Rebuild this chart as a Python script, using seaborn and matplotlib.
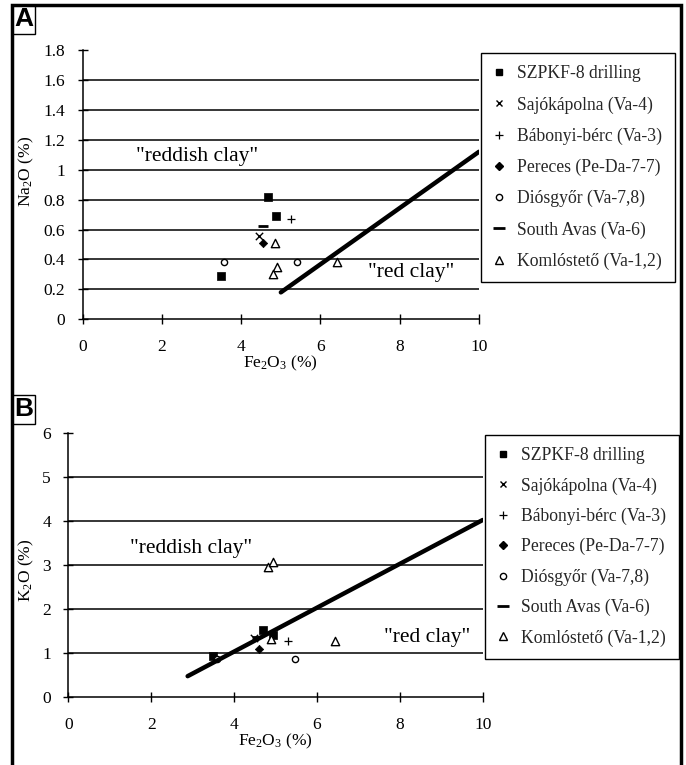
import matplotlib
matplotlib.use('Agg')
import matplotlib.pyplot as plt
import seaborn as sns
import pandas as pd
from matplotlib.patches import Rectangle
from matplotlib.lines import Line2D

# ---------------- data ----------------
series = ["SZPKF-8 drilling", "Sajókápolna (Va-4)", "Bábonyi-bérc (Va-3)",
          "Pereces (Pe-Da-7-7)", "Diósgyőr (Va-7,8)", "South Avas (Va-6)",
          "Komlóstető (Va-1,2)"]

# Panel A: Na2O vs Fe2O3
a_fe = {
    "SZPKF-8 drilling": [3.48, 4.67, 4.89],
    "Sajókápolna (Va-4)": [4.44],
    "Bábonyi-bérc (Va-3)": [5.26],
    "Pereces (Pe-Da-7-7)": [4.55],
    "Diósgyőr (Va-7,8)": [3.57, 5.40],
    "South Avas (Va-6)": [4.55],
    "Komlóstető (Va-1,2)": [4.85, 4.90, 4.80, 6.41],
}
a_na = {
    "SZPKF-8 drilling": [0.29, 0.82, 0.69],
    "Sajókápolna (Va-4)": [0.56],
    "Bábonyi-bérc (Va-3)": [0.67],
    "Pereces (Pe-Da-7-7)": [0.51],
    "Diósgyőr (Va-7,8)": [0.38, 0.38],
    "South Avas (Va-6)": [0.625],
    "Komlóstető (Va-1,2)": [0.51, 0.35, 0.30, 0.385],
}
# Panel B: K2O vs Fe2O3
b_fe = {
    "SZPKF-8 drilling": [3.50, 4.69, 4.93],
    "Sajókápolna (Va-4)": [4.49],
    "Bábonyi-bérc (Va-3)": [5.31],
    "Pereces (Pe-Da-7-7)": [4.60],
    "Diósgyőr (Va-7,8)": [3.60, 5.46],
    "South Avas (Va-6)": [4.55],
    "Komlóstető (Va-1,2)": [4.89, 4.83, 4.93, 6.43],
}
b_k = {
    "SZPKF-8 drilling": [0.93, 1.54, 1.42],
    "Sajókápolna (Va-4)": [1.34],
    "Bábonyi-bérc (Va-3)": [1.29],
    "Pereces (Pe-Da-7-7)": [1.10],
    "Diósgyőr (Va-7,8)": [0.88, 0.87],
    "South Avas (Va-6)": [1.38],
    "Komlóstető (Va-1,2)": [1.32, 2.97, 3.08, 1.29],
}
# boundary lines
a_line_x = [5.0, 10.0]
a_line_y = [0.18, 1.12]
b_line_x = [2.88, 10.0]
b_line_y = [0.48, 4.03]

x_ticks = [0, 2, 4, 6, 8, 10]
a_y_ticks = [0, 0.2, 0.4, 0.6, 0.8, 1, 1.2, 1.4, 1.6, 1.8]
a_y_ticklabels = ["0", "0.2", "0.4", "0.6", "0.8", "1", "1.2", "1.4", "1.6", "1.8"]
b_y_ticks = [0, 1, 2, 3, 4, 5, 6]

# ---------------- style ----------------
sns.set_theme(style='white')
plt.rcParams['font.family'] = ['Liberation Serif', 'DejaVu Serif']
plt.rcParams['mathtext.fontset'] = 'custom'
plt.rcParams['mathtext.rm'] = 'Liberation Serif'
plt.rcParams['mathtext.it'] = 'Liberation Serif:italic'

markers = {
    "SZPKF-8 drilling": dict(marker='s', s=34, facecolor='black', edgecolor='black', linewidth=0.5),
    "Sajókápolna (Va-4)": dict(marker='x', s=28, color='black', linewidth=1.0),
    "Bábonyi-bérc (Va-3)": dict(marker='+', s=40, color='black', linewidth=0.9),
    "Pereces (Pe-Da-7-7)": dict(marker='D', s=18, facecolor='black', edgecolor='black', linewidth=0.5),
    "Diósgyőr (Va-7,8)": dict(marker='o', s=20, facecolor='white', edgecolor='black', linewidth=1.0),
    "South Avas (Va-6)": dict(marker='_', s=60, color='black', linewidth=2.0),
    "Komlóstető (Va-1,2)": dict(marker='^', s=36, facecolor='white', edgecolor='black', linewidth=1.0),
}
legend_markers = {
    "SZPKF-8 drilling": dict(marker='s', markersize=5, mfc='black', mec='black'),
    "Sajókápolna (Va-4)": dict(marker='x', markersize=5, color='black', mew=1.0),
    "Bábonyi-bérc (Va-3)": dict(marker='+', markersize=6, color='black', mew=0.9),
    "Pereces (Pe-Da-7-7)": dict(marker='D', markersize=4, mfc='black', mec='black'),
    "Diósgyőr (Va-7,8)": dict(marker='o', markersize=4.5, mfc='white', mec='black', mew=1.0),
    "South Avas (Va-6)": dict(marker='_', markersize=8, color='black', mew=2.0),
    "Komlóstető (Va-1,2)": dict(marker='^', markersize=5.5, mfc='white', mec='black', mew=1.0),
}

W, H = 686, 765
fig = plt.figure(figsize=(W / 100, H / 100), dpi=100)


def fig_rect(x0, y0, x1, y1):
    return [x0 / W, 1 - y1 / H, (x1 - x0) / W, (y1 - y0) / H]


axA = fig.add_axes(fig_rect(82.7, 50, 479, 319.3))
axB = fig.add_axes(fig_rect(68.3, 433.3, 482.7, 697.3))


def draw_panel(ax, fe, yv, lx, ly, yticks, yticklabels, ylim, ylabel):
    for name in series:
        df = pd.DataFrame({"Fe2O3": fe[name], "Y": yv[name]})
        sns.scatterplot(data=df, x="Fe2O3", y="Y", ax=ax, zorder=4, **markers[name])
    ldf = pd.DataFrame({"x": lx, "y": ly})
    sns.lineplot(data=ldf, x="x", y="y", ax=ax, color='black', linewidth=3.2, zorder=5)
    ax.set_xlim(0, 10)
    ax.set_ylim(*ylim)
    ax.set_xticks(x_ticks)
    ax.set_xticklabels([str(t) for t in x_ticks])
    ax.set_yticks(yticks)
    ax.set_yticklabels(yticklabels)
    ax.yaxis.grid(True, color='black', linewidth=1.1)
    ax.xaxis.grid(False)
    gl = ax.get_ygridlines()
    gl[0].set_visible(False)
    gl[-1].set_visible(False)
    for side in ['top', 'right']:
        ax.spines[side].set_visible(False)
    for side in ['left', 'bottom']:
        ax.spines[side].set_color('black')
        ax.spines[side].set_linewidth(1.1)
    ax.tick_params(axis='both', direction='inout', length=7, width=1.0, color='black',
                   labelsize=12.5, labelcolor='black', left=True, bottom=True)
    ax.tick_params(axis='y', pad=9)
    ax.tick_params(axis='x', pad=11)
    ax.set_xlabel(r'Fe$_2$O$_3$ (%)', fontsize=12.5, color='black', labelpad=-1)
    ax.set_ylabel(ylabel, fontsize=12.5, color='black')
    ax.set_facecolor('white')
    ax.patch.set_alpha(0)


draw_panel(axA, a_fe, a_na, a_line_x, a_line_y, a_y_ticks, a_y_ticklabels, (0, 1.8), r'Na$_2$O (%)')
draw_panel(axB, b_fe, b_k, b_line_x, b_line_y, b_y_ticks, [str(t) for t in b_y_ticks], (0, 6), r'K$_2$O (%)')
axA.yaxis.set_label_coords(-0.118, 0.55)
axB.yaxis.set_label_coords(-0.078, 0.48)

# annotations
axA.text(1.35, 1.085, '"reddish clay"', fontsize=15.5, ha='left', va='center', color='black')
axA.text(7.2, 0.31, '"red clay"', fontsize=15.5, ha='left', va='center', color='black')
axB.text(1.5, 3.38, '"reddish clay"', fontsize=15.5, ha='left', va='center', color='black')
axB.text(7.62, 1.35, '"red clay"', fontsize=15.5, ha='left', va='center', color='black')

# legends
handles = [Line2D([], [], linestyle='none', **legend_markers[n]) for n in series]
for ax, (lx0, ly0), sp in [(axA, (481, 53), 0.79), (axB, (485, 435), 0.74)]:
    leg = ax.legend(handles, series, loc='upper left',
                    bbox_to_anchor=(lx0 / W, 1 - ly0 / H), bbox_transform=fig.transFigure,
                    borderaxespad=0, fontsize=12.7, frameon=True, fancybox=False,
                    edgecolor='black', framealpha=1, labelspacing=sp,
                    handlelength=0.6, handletextpad=0.75, borderpad=0.7)
    leg.get_frame().set_linewidth(1.0)

# outer border and panel letters
fig.add_artist(Rectangle((12 / W, -0.01), (681 - 12) / W, 1.01 - 5 / H,
                         transform=fig.transFigure, fill=False, lw=2.5, ec='black'))
for letter, (x0, y0, x1, y1) in [("A", (12, 5, 35, 34)), ("B", (12, 395, 35, 424))]:
    fig.add_artist(Rectangle((x0 / W, 1 - y1 / H), (x1 - x0) / W, (y1 - y0) / H,
                             transform=fig.transFigure, fill=False, lw=1.0, ec='black'))
    fig.text((x0 + x1) / 2 / W, 1 - (y0 + y1) / 2 / H, letter, ha='center', va='center',
             fontsize=19, fontweight='bold', family='Liberation Sans', color='black')

fig.savefig('out.png', dpi=100, facecolor='white')
